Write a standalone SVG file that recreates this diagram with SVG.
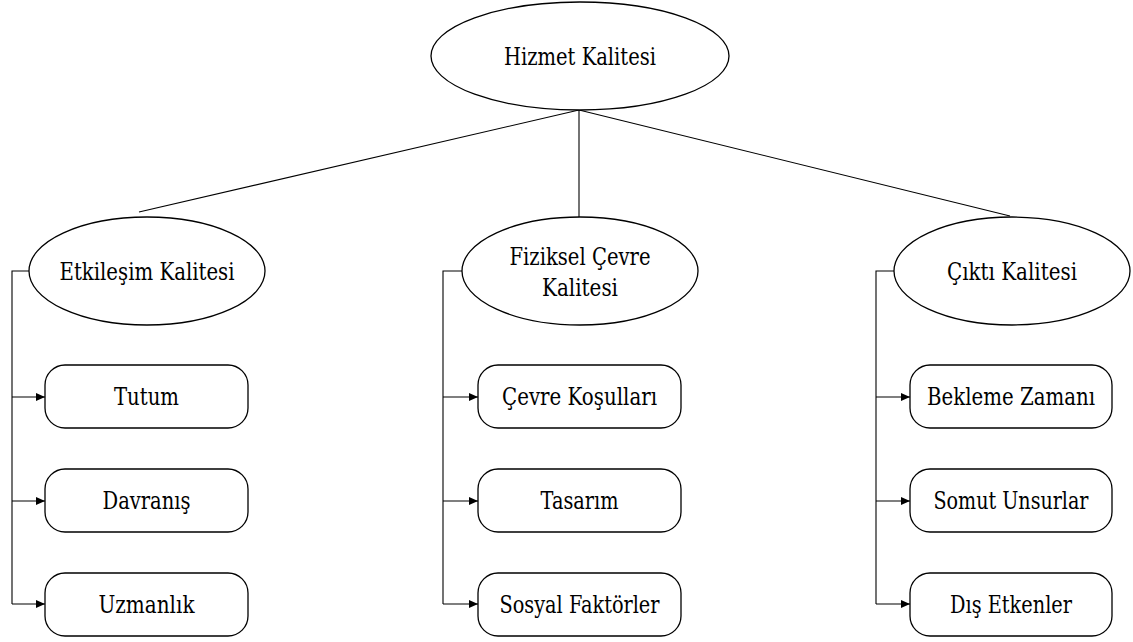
<svg xmlns="http://www.w3.org/2000/svg" width="1133" height="642" viewBox="0 0 1133 642">
<defs>
<marker id="arr" markerUnits="userSpaceOnUse" markerWidth="10" markerHeight="10" refX="9" refY="4" orient="auto">
<path d="M0,0 L9,4 L0,8 Z" fill="#000"/>
</marker>
<style>
.sh{fill:#fff;stroke:#000;stroke-width:1.3}
.ln{fill:none;stroke:#000;stroke-width:1.1}
text{font-family:'DejaVu Serif','Liberation Serif','Times New Roman',serif;font-size:24px;fill:#000;text-anchor:middle}
</style>
</defs>
<rect width="1133" height="642" fill="#fff"/>
<g id="connectors">
<line class="ln" x1="579" y1="110" x2="139" y2="212"/>
<line class="ln" x1="579" y1="110" x2="579" y2="217"/>
<line class="ln" x1="579" y1="110" x2="1010" y2="216"/>
<path class="ln" d="M29,271 H12 V604"/>
<line class="ln" x1="12" y1="397" x2="45" y2="397" marker-end="url(#arr)"/>
<line class="ln" x1="12" y1="501" x2="45" y2="501" marker-end="url(#arr)"/>
<line class="ln" x1="12" y1="604" x2="45" y2="604" marker-end="url(#arr)"/>
<path class="ln" d="M462,271 H443 V604"/>
<line class="ln" x1="443" y1="397" x2="478" y2="397" marker-end="url(#arr)"/>
<line class="ln" x1="443" y1="501" x2="478" y2="501" marker-end="url(#arr)"/>
<line class="ln" x1="443" y1="604" x2="478" y2="604" marker-end="url(#arr)"/>
<path class="ln" d="M894,271 H876 V604"/>
<line class="ln" x1="876" y1="397" x2="910" y2="397" marker-end="url(#arr)"/>
<line class="ln" x1="876" y1="501" x2="910" y2="501" marker-end="url(#arr)"/>
<line class="ln" x1="876" y1="604" x2="910" y2="604" marker-end="url(#arr)"/>
</g>
<g id="hizmet">
<ellipse class="sh" cx="580" cy="56" rx="149" ry="54"/>
<text x="580" y="65" textLength="152" lengthAdjust="spacingAndGlyphs">Hizmet Kalitesi</text>
</g>
<g id="etkilesim">
<ellipse class="sh" cx="147" cy="271" rx="118" ry="54"/>
<text x="147" y="280" textLength="175" lengthAdjust="spacingAndGlyphs">Etkileşim Kalitesi</text>
</g>
<g id="fiziksel">
<ellipse class="sh" cx="580" cy="271" rx="118" ry="54"/>
<text x="580" y="265" textLength="141" lengthAdjust="spacingAndGlyphs">Fiziksel Çevre</text>
<text x="580" y="296" textLength="76" lengthAdjust="spacingAndGlyphs">Kalitesi</text>
</g>
<g id="cikti">
<ellipse class="sh" cx="1012" cy="271" rx="118" ry="54"/>
<text x="1012" y="280" textLength="130" lengthAdjust="spacingAndGlyphs">Çıktı Kalitesi</text>
</g>
<g id="tutum">
<rect class="sh" x="45" y="365" width="203" height="63" rx="20"/>
<text x="146.5" y="405" textLength="65" lengthAdjust="spacingAndGlyphs">Tutum</text>
</g>
<g id="davranis">
<rect class="sh" x="45" y="469" width="203" height="63" rx="20"/>
<text x="146.5" y="509" textLength="88" lengthAdjust="spacingAndGlyphs">Davranış</text>
</g>
<g id="uzmanlik">
<rect class="sh" x="45" y="573" width="203" height="63" rx="20"/>
<text x="146.5" y="613" textLength="96" lengthAdjust="spacingAndGlyphs">Uzmanlık</text>
</g>
<g id="cevre">
<rect class="sh" x="478" y="365" width="203" height="63" rx="20"/>
<text x="579.5" y="405" textLength="155" lengthAdjust="spacingAndGlyphs">Çevre Koşulları</text>
</g>
<g id="tasarim">
<rect class="sh" x="478" y="469" width="203" height="63" rx="20"/>
<text x="579.5" y="509" textLength="78" lengthAdjust="spacingAndGlyphs">Tasarım</text>
</g>
<g id="sosyal">
<rect class="sh" x="478" y="573" width="203" height="63" rx="20"/>
<text x="579.5" y="613" textLength="160" lengthAdjust="spacingAndGlyphs">Sosyal Faktörler</text>
</g>
<g id="bekleme">
<rect class="sh" x="910" y="365" width="202" height="63" rx="20"/>
<text x="1011" y="405" textLength="168" lengthAdjust="spacingAndGlyphs">Bekleme Zamanı</text>
</g>
<g id="somut">
<rect class="sh" x="910" y="469" width="202" height="63" rx="20"/>
<text x="1011" y="509" textLength="155" lengthAdjust="spacingAndGlyphs">Somut Unsurlar</text>
</g>
<g id="dis">
<rect class="sh" x="910" y="573" width="202" height="63" rx="20"/>
<text x="1011" y="613" textLength="122" lengthAdjust="spacingAndGlyphs">Dış Etkenler</text>
</g>
</svg>
